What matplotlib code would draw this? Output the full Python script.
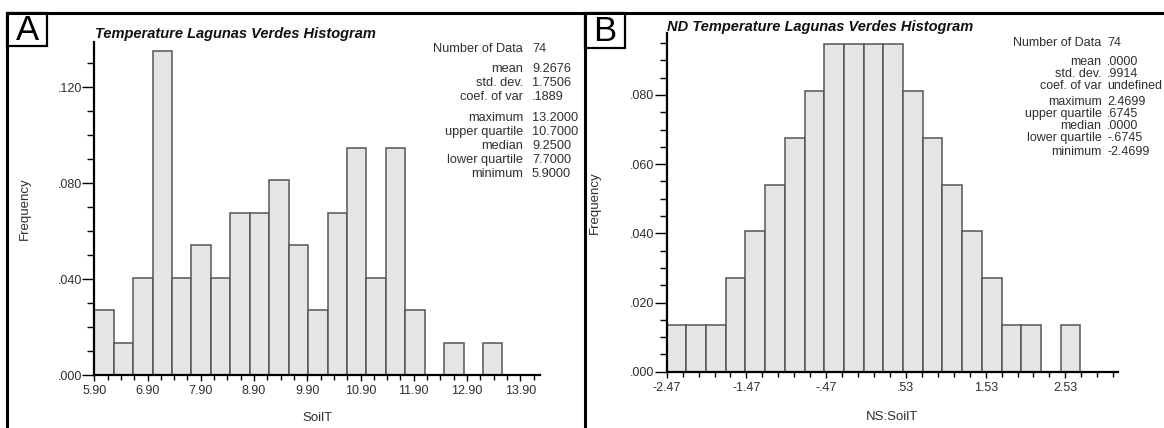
import numpy as np
import matplotlib
matplotlib.use("Agg")
import matplotlib.pyplot as plt
from matplotlib.lines import Line2D
from matplotlib.patches import Rectangle

plt.rcParams['font.family'] = ['Liberation Sans', 'DejaVu Sans']

W, H = 1164, 428

# ---------------- data ----------------
n_data = 74

# Panel A: raw soil temperature (class counts)
soil_start = 5.9
soil_width = 0.365
soil_counts = [2, 1, 3, 10, 3, 4, 3, 5, 5, 6, 4, 2, 5, 7, 3, 7, 2, 0, 1, 0, 1]
soil_xticks = [5.9, 6.9, 7.9, 8.9, 9.9, 10.9, 11.9, 12.9, 13.9]
soil_xticklabels = ["5.90", "6.90", "7.90", "8.90", "9.90", "10.90", "11.90", "12.90", "13.90"]
soil_yticks = [0.0, 0.04, 0.08, 0.12]
soil_yticklabels = [".000", ".040", ".080", ".120"]
soil_stat_names = ["Number of Data", "mean", "std. dev.", "coef. of var",
                   "maximum", "upper quartile", "median", "lower quartile", "minimum"]
soil_stat_values = ["74", "9.2676", "1.7506", ".1889",
                    "13.2000", "10.7000", "9.2500", "7.7000", "5.9000"]

# Panel B: normal scores of soil temperature (class counts)
ns_start = -2.4699
ns_width = 0.24699
ns_counts = [1, 1, 1, 2, 3, 4, 5, 6, 7, 7, 7, 7, 6, 5, 4, 3, 2, 1, 1, 0, 1]
ns_xticks = [-2.47, -1.47, -0.47, 0.53, 1.53, 2.53]
ns_xticklabels = ["-2.47", "-1.47", "-.47", ".53", "1.53", "2.53"]
ns_yticks = [0.0, 0.02, 0.04, 0.06, 0.08]
ns_yticklabels = [".000", ".020", ".040", ".060", ".080"]
ns_stat_names = soil_stat_names
ns_stat_values = ["74", ".0000", ".9914", "undefined",
                  "2.4699", ".6745", ".0000", "-.6745", "-2.4699"]


def fx(px):
    return px / W


def fy(py):
    return 1 - py / H


fig = plt.figure(figsize=(W / 100, H / 100), dpi=100)

BAR_FACE = "#e5e5e5"
BAR_EDGE = "#555555"
TXT = "#2e2e2e"


def histogram(ax, start, width, counts, xlim, ylim, xticks, xticklabels,
              xminor, yticks, yticklabels, yminor, xlabel, label_y):
    counts = np.asarray(counts, dtype=float)
    freq = counts / n_data
    left = start + width * np.arange(len(counts))
    keep = counts > 0
    ax.bar(left[keep], freq[keep], width=width, align="edge",
           color=BAR_FACE, edgecolor=BAR_EDGE, linewidth=1.1, zorder=2)
    ax.set_xlim(*xlim)
    ax.set_ylim(*ylim)
    for s in ("top", "right"):
        ax.spines[s].set_visible(False)
    for s in ("left", "bottom"):
        ax.spines[s].set_linewidth(1.6)
        ax.spines[s].set_color("black")
        ax.spines[s].set_zorder(3)
    ax.set_xticks(xticks)
    ax.set_xticklabels(xticklabels)
    ax.set_xticks(xminor, minor=True)
    ax.set_yticks(yticks)
    ax.set_yticklabels(yticklabels)
    ax.set_yticks(yminor, minor=True)
    ax.tick_params(axis="x", which="major", length=4.5, width=1.0, pad=3,
                   labelsize=9, labelcolor=TXT, direction="out")
    ax.tick_params(axis="x", which="minor", length=3.6, width=1.0, direction="out")
    ax.tick_params(axis="y", which="major", length=9, width=1.0, pad=0,
                   labelsize=9, labelcolor=TXT, direction="out")
    ax.tick_params(axis="y", which="minor", length=5, width=1.0, direction="out")
    ax.set_xlabel(xlabel, fontsize=9.5, color=TXT)
    ax.xaxis.set_label_coords(0.5, label_y)
    ax.xaxis.label.set_va("center")
    ax.set_ylabel("Frequency", fontsize=9.5, color=TXT)
    ax.yaxis.label.set_va("center")
    ax.patch.set_alpha(0)


# ---- Panel A ----
axA = fig.add_axes([fx(94.3), fy(375), fx(540) - fx(94.3), fy(42) - fy(375)])
histogram(axA, soil_start, soil_width, soil_counts,
          (5.9, 14.27), (0, 0.1388),
          soil_xticks, soil_xticklabels, np.arange(5.9, 14.2, 0.25),
          soil_yticks, soil_yticklabels, np.arange(0, 0.1305, 0.01),
          "SoilT", (375 - 418) / (375 - 42))
axA.yaxis.set_label_coords((25 - 94.3) / (540 - 94.3), 0.5)

# ---- Panel B ----
axB = fig.add_axes([fx(666.7), fy(371.7), fx(1118) - fx(666.7), fy(33) - fy(371.7)])
histogram(axB, ns_start, ns_width, ns_counts,
          (-2.47, 3.19), (0, 0.0979),
          ns_xticks, ns_xticklabels, np.arange(-2.47, 3.15, 0.2),
          ns_yticks, ns_yticklabels, np.arange(0, 0.0955, 0.005),
          "NS:SoilT", (371.7 - 417) / (371.7 - 33))
axB.yaxis.set_label_coords((595 - 666.7) / (1118 - 666.7), 0.5)

# ---- titles ----
fig.text(fx(95), fy(34), "Temperature Lagunas Verdes Histogram",
         fontsize=10.5, fontweight="bold", fontstyle="italic",
         ha="left", va="center", color="#111111")
fig.text(fx(667), fy(27.5), "ND Temperature Lagunas Verdes Histogram",
         fontsize=10.5, fontweight="bold", fontstyle="italic",
         ha="left", va="center", color="#111111")


# ---- summary statistics ----
def stats_block(names, values, x_label, x_value, rows_y, size):
    for name, val, y in zip(names, values, rows_y):
        fig.text(fx(x_label), fy(y), name, fontsize=size, ha="right",
                 va="center", color=TXT)
        fig.text(fx(x_value), fy(y), val, fontsize=size, ha="left",
                 va="center", color=TXT)


stats_block(soil_stat_names, soil_stat_values, 523, 532,
            [49.5, 69.5, 83, 97, 118, 132, 146, 160, 174.5], 9.2)
stats_block(ns_stat_names, ns_stat_values, 1101.5, 1107,
            [42.7, 62, 74, 86, 102, 114, 126, 138.3, 151.5], 9.0)

# ---- panel frames ----
frame_kw = dict(color="black", linewidth=2.2, transform=fig.transFigure,
                solid_capstyle="butt")
fig.add_artist(Line2D([fx(5.5), 1.0], [fy(13), fy(13)], **frame_kw))
fig.add_artist(Line2D([fx(7), fx(7)], [fy(12), 0.0], **frame_kw))
fig.add_artist(Line2D([fx(585), fx(585)], [fy(12), 0.0], **frame_kw))

for x0, x1, y1, letter in [(7, 47, 46, "A"), (585, 625, 48, "B")]:
    fig.add_artist(Rectangle((fx(x0), fy(y1)), fx(x1) - fx(x0), fy(13) - fy(y1),
                             fill=False, edgecolor="black", linewidth=1.6,
                             transform=fig.transFigure))
    fig.text(fx((x0 + x1) / 2), fy((13 + y1) / 2 + 1), letter, fontsize=25,
             ha="center", va="center", color="black")

fig.savefig("out.png", dpi=100)
